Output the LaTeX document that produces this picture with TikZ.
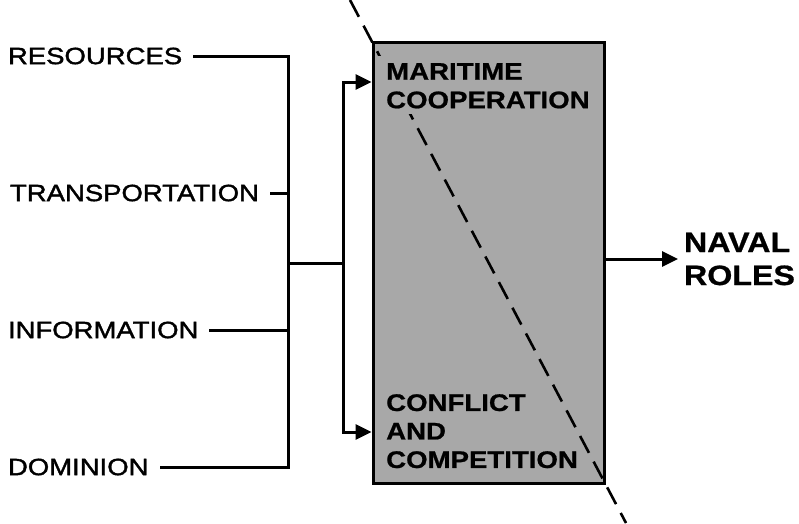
\documentclass[tikz,border=0pt]{standalone}
\usepackage{fontspec}
\setmainfont{Liberation Sans}[FakeStretch=1.16]
\newfontfamily\medfont{Liberation Sans}[FakeStretch=1.17, FakeBold=1.6]
\newfontfamily\heavyfont{Liberation Sans Bold}[FakeStretch=1.15, FakeBold=0.8]
\usetikzlibrary{arrows.meta,calc,backgrounds}
\definecolor{boxgray}{HTML}{A8A8A8}
\tikzset{
  lbl/.style={inner sep=0pt, outer xsep=11pt, anchor=west, font=\medfont\fontsize{23.5}{28}\selectfont},
  boxtxt/.style={inner sep=1pt, anchor=north west, align=left, font=\heavyfont\fontsize{24}{28.5}\selectfont},
  conn/.style={line width=3pt, draw=black},
  arr/.style={conn, -{Triangle[length=16pt,width=15pt]}},
  stage/.style={draw=black, line width=3pt, fill=boxgray, minimum width=231pt, minimum height=441pt, inner sep=0pt},
}
\begin{document}
\begin{tikzpicture}[x=1pt,y=-1pt]
\useasboundingbox (0,0) rectangle (799,523);
% texts inside the box
\node[boxtxt] (mc) at (385,62) {MARITIME\\COOPERATION};
\node[boxtxt] (cc) at (385,393) {CONFLICT\\AND\\COMPETITION};
\begin{pgfonlayer}{background}
  % central stage box
  \node[stage] (box) at (488.5,262.5) {};
  % dividing dashed diagonal
  \coordinate (dtop) at (350,0);
  \coordinate (dbot) at (626,523);
  \draw[line width=2.6pt, dash pattern=on 19pt off 10pt] (dtop) -- (dbot);
  % the upper text stands on a patch over the diagonal
  \fill[boxgray] ($(mc.north west)+(-10,-6)$) rectangle ($(mc.south east)+(0,4)$);
\end{pgfonlayer}
% input labels
\node[lbl] (res) at (-3,56) {RESOURCES};
\node[lbl] (tra) at (-1,193) {TRANSPORTATION};
\node[lbl] (inf) at (-3,330) {INFORMATION};
\node[lbl] (dom) at (-3,467) {DOMINION};
% collecting bus
\coordinate (jt) at (288,56);
\coordinate (jb) at (288,467);
\coordinate (jm) at (288,263);
\coordinate (sp) at (343,263);
\draw[conn] (res.east) -- (jt) -- (jb) -- (dom.east);
\draw[conn] (tra.east) -- (tra.east -| jt);
\draw[conn] (inf.east) -- (inf.east -| jt);
\draw[conn] (jm) -- (sp);
\draw[arr] (sp) |- (box.west |- 0,82);
\draw[arr] (sp) |- (box.west |- 0,432);
% output
\node[inner sep=0pt, outer xsep=6pt, anchor=west, align=left, font=\heavyfont\fontsize{28}{33}\selectfont] (nav) at (678,259) {NAVAL\\ROLES};
\draw[arr] (box.east |- nav.west) -- (nav.west);
\end{tikzpicture}
\end{document}
